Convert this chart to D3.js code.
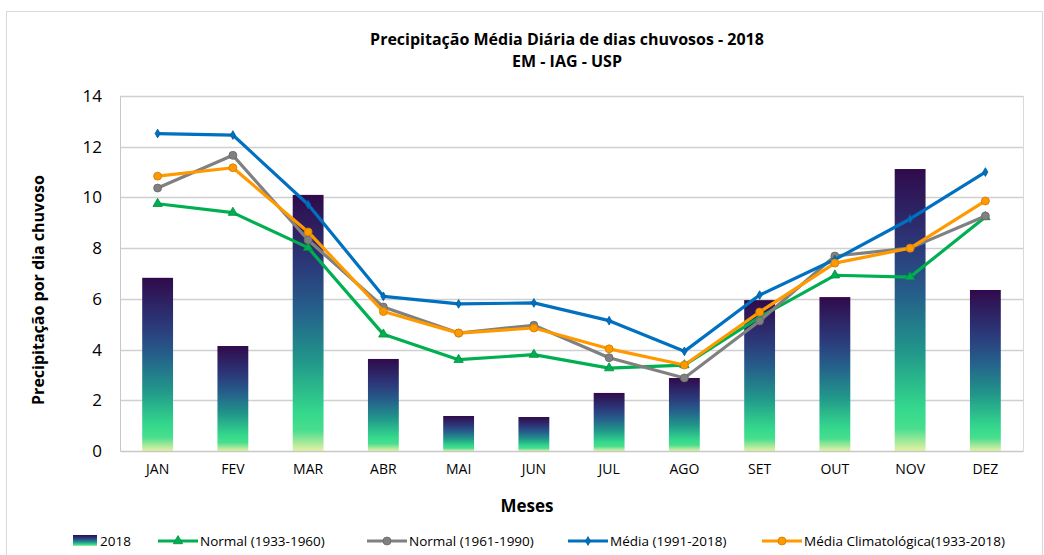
<!DOCTYPE html>
<meta charset="utf-8">
<style>
body { margin: 0; background: #fff; }
text { font-family: "Open Sans", "Liberation Sans", sans-serif; fill: #000; }
</style>
<body>
<script src="https://d3js.org/d3.v7.min.js"></script>
<script>

const months = ["JAN","FEV","MAR","ABR","MAI","JUN","JUL","AGO","SET","OUT","NOV","DEZ"];
const bars2018   = [6.83, 4.14, 10.1, 3.63, 1.38, 1.34, 2.29, 2.88, 5.95, 6.07, 11.12, 6.35];
const normal3360 = [9.75, 9.4, 8.02, 4.6, 3.6, 3.8, 3.27, 3.39, 5.28, 6.93, 6.86, 9.23];
const normal6190 = [10.37, 11.66, 8.32, 5.68, 4.65, 4.96, 3.68, 2.88, 5.13, 7.69, 8.0, 9.27];
const media9118  = [12.52, 12.46, 9.72, 6.1, 5.8, 5.84, 5.14, 3.93, 6.15, 7.55, 9.15, 11.0];
const mediaClim  = [10.84, 11.17, 8.64, 5.5, 4.65, 4.85, 4.03, 3.39, 5.48, 7.41, 8.0, 9.86];
const yTicks = [0, 2, 4, 6, 8, 10, 12, 14];

const series = [
  {name: "Normal (1933-1960)", values: normal3360, color: "#00b050", marker: "triangle"},
  {name: "Normal (1961-1990)", values: normal6190, color: "#808080", marker: "circle"},
  {name: "Média (1991-2018)", values: media9118, color: "#0070c0", marker: "diamond"},
  {name: "Média Climatológica(1933-2018)", values: mediaClim, color: "#ff9900", marker: "circle"}
];

const W = 1044, H = 555;
const margin = {top: 96, right: 21, bottom: 104, left: 120};
const width = W - margin.left - margin.right,
      height = H - margin.top - margin.bottom;

const svg = d3.select("body").append("svg")
  .attr("width", W).attr("height", H);

// chart frame
svg.append("rect")
  .attr("x", 6.5).attr("y", 11.5).attr("width", W - 8).attr("height", H)
  .attr("fill", "none").attr("stroke", "#d9d9d9");

const defs = svg.append("defs");
const grad = defs.append("linearGradient")
  .attr("id", "barGrad").attr("x1", 0).attr("y1", 0).attr("x2", 0).attr("y2", 1);
[[0, "#300a4b"], [0.28, "#2b3a7b"], [0.45, "#25608b"], [0.65, "#21978a"],
 [0.85, "#34d88c"], [0.92, "#48de8e"], [1, "#e6f1a2"]].forEach(s =>
  grad.append("stop").attr("offset", s[0]).attr("stop-color", s[1]));

const g = svg.append("g").attr("transform", "translate(" + margin.left + "," + margin.top + ")");

const x = d3.scaleBand().domain(months).range([0, width]).paddingInner(0.59).paddingOuter(0.295);
const xc = d => x(d) + x.bandwidth() / 2;
const y = d3.scaleLinear().domain([0, 14]).range([height, 0]);

// gridlines
g.selectAll(".grid").data(yTicks.slice(1)).enter().append("line")
  .attr("x1", 0).attr("x2", width)
  .attr("y1", d => Math.round(y(d)) + 0.5).attr("y2", d => Math.round(y(d)) + 0.5)
  .attr("stroke", "#d0d0d0").attr("stroke-width", 1.3);

g.append("line").attr("x1", width + 0.5).attr("x2", width + 0.5).attr("y1", 0).attr("y2", height)
  .attr("stroke", "#d9d9d9");

// bars
g.selectAll(".bar").data(months).enter().append("rect")
  .attr("x", d => x(d))
  .attr("width", x.bandwidth())
  .attr("y", (d, i) => y(bars2018[i]))
  .attr("height", (d, i) => height - y(bars2018[i]))
  .attr("fill", "url(#barGrad)");

// axes
const yAxis = g.append("g").call(d3.axisLeft(y).tickValues(yTicks).tickSize(0).tickPadding(18));
yAxis.select(".domain").attr("stroke", "#c8c8c8");
yAxis.selectAll("text").attr("font-size", "17px").attr("fill", "#222");

const xAxis = g.append("g").attr("transform", "translate(0," + height + ")")
  .call(d3.axisBottom(x).tickSize(0).tickPadding(13));
xAxis.select(".domain").attr("stroke", "#c8c8c8").attr("stroke-width", 1.5);
xAxis.selectAll("text").attr("font-size", "14px").attr("fill", "#222");

// lines
const line = d3.line().x((d, i) => xc(months[i])).y(d => y(d));
const sym = {
  triangle: d3.symbol().type(d3.symbolTriangle).size(38),
  circle: d3.symbol().type(d3.symbolCircle).size(50),
  diamond: d3.symbol().type(d3.symbolDiamond).size(22)
};

series.forEach(s => {
  g.append("path").datum(s.values)
    .attr("d", line).attr("fill", "none")
    .attr("stroke", s.color).attr("stroke-width", 3.2).attr("stroke-linejoin", "round");
  g.selectAll(null).data(s.values).enter().append("path")
    .attr("transform", (d, i) => "translate(" + xc(months[i]) + "," + y(d) + ")")
    .attr("d", sym[s.marker])
    .attr("fill", s.color)
    .attr("stroke", d3.color(s.color).darker(0.6)).attr("stroke-width", 0.8);
});

// titles
svg.append("text").attr("x", 567).attr("y", 45).attr("text-anchor", "middle")
  .attr("font-size", "16px").attr("font-weight", "bold")
  .text("Precipitação Média Diária de dias chuvosos - 2018");
svg.append("text").attr("x", 567).attr("y", 67).attr("text-anchor", "middle")
  .attr("font-size", "16px").attr("font-weight", "bold")
  .text("EM - IAG - USP");

svg.append("text")
  .attr("transform", "translate(44,290) rotate(-90)")
  .attr("text-anchor", "middle").attr("font-size", "16px").attr("font-weight", "bold")
  .text("Precipitação por dia chuvoso");

svg.append("text").attr("x", 527).attr("y", 512).attr("text-anchor", "middle")
  .attr("font-size", "17px").attr("font-weight", "bold")
  .text("Meses");

// legend
const legY = 541;
const lg = svg.append("g");
lg.append("rect").attr("x", 73).attr("y", legY - 6).attr("width", 24).attr("height", 11)
  .attr("fill", "url(#barGrad)");
lg.append("text").attr("x", 100).attr("y", legY + 5).attr("font-size", "13.5px").text("2018");

const legX = [158, 367, 568, 762];
series.forEach((s, i) => {
  const lx = legX[i];
  lg.append("line").attr("x1", lx).attr("x2", lx + 40).attr("y1", legY).attr("y2", legY)
    .attr("stroke", s.color).attr("stroke-width", 3.2);
  lg.append("path").attr("transform", "translate(" + (lx + 20) + "," + legY + ")")
    .attr("d", sym[s.marker]).attr("fill", s.color)
    .attr("stroke", d3.color(s.color).darker(0.6)).attr("stroke-width", 0.8);
  lg.append("text").attr("x", lx + 42).attr("y", legY + 5).attr("font-size", "13.5px").text(s.name);
});
</script>
</body>
